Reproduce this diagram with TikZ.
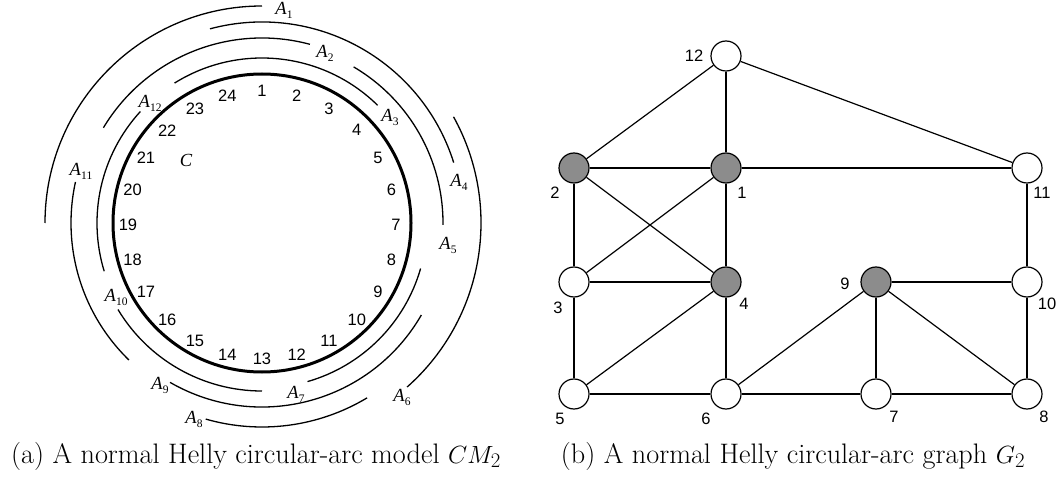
\documentclass[tikz,border=0pt]{standalone}
\usepackage{fontspec}
\newfontfamily\arialf{Liberation Sans}
\newfontfamily\timesf{Liberation Serif}
\newcommand{\Alab}[1]{{\timesf\itshape A}\kern0.2pt\raisebox{-4pt}{\fontsize{11.5}{12}\selectfont\timesf #1}}
\begin{document}
\begin{tikzpicture}[x=1pt,y=-1pt,
  arcl/.style={line width=1.3pt},
  numl/.style={font=\arialf\fontsize{16.5}{17}\selectfont, inner sep=0pt},
  alab/.style={font=\fontsize{18.5}{20}\selectfont, inner sep=0pt},
  vtx/.style={circle, draw, line width=1.2pt, minimum size=30pt, inner sep=0pt, fill=white},
  gvtx/.style={vtx, fill=black!45},
  vlab/.style={font=\arialf\fontsize{16.5}{17}\selectfont, inner sep=0pt},
  edge/.style={line width=1.2pt},
  capt/.style={font=\fontsize{28.2}{32}\selectfont, inner sep=0pt}]
\useasboundingbox (0,0) rectangle (1061,481);

% ---------- circular-arc model ----------
\begin{scope}[shift={(262,223)}, yscale=-1]
  \draw[line width=3pt] (0,0) circle[radius=149];
  \foreach \a/\b/\r in {90/180/217, 75/149/185, 45.5/122/165, 17.5/105/201,
     -0.6/59.6/181, -48.5/29/219, -74/-16/165, -106/-59/204, -120/-30/184,
     -149/-90/168, 167.6/225.8/191, 137.5/197/165}
    \draw[arcl] (\a:\r) arc[start angle=\a, end angle=\b, radius=\r];
\end{scope}
\begin{scope}[shift={(262,225)}, yscale=-1]
  \foreach \k in {1,...,24}
    \node[numl] (p\k) at ({90-15*(\k-1)}:134) {\k};
\end{scope}

\node[alab] (a1) at (284,10) {\Alab{1}};
\node[alab] (a2) at (325,53) {\Alab{2}};
\node[alab] (a3) at (390,117) {\Alab{3}};
\node[alab] (a4) at (459,182) {\Alab{4}};
\node[alab] (a5) at (448,245) {\Alab{5}};
\node[alab] (a6) at (402,397) {\Alab{6}};
\node[alab] (a7) at (296,394) {\Alab{7}};
\node[alab] (a8) at (194,419) {\Alab{8}};
\node[alab] (a9) at (160,385) {\Alab{9}};
\node[alab] (a10) at (116,297) {\Alab{10}};
\node[alab] (a11) at (81,171) {\Alab{11}};
\node[alab] (a12) at (150,103) {\Alab{12}};
\node[alab] (cl) at (186,160) {{\timesf\itshape C}};

% ---------- graph ----------
\node[vtx]  (v12) at (726,56) {};
\node[gvtx] (v2)  at (574,168) {};
\node[gvtx] (v1)  at (726,168) {};
\node[vtx]  (v11) at (1027,168) {};
\node[vtx]  (v3)  at (574,282) {};
\node[gvtx] (v4)  at (726,282) {};
\node[gvtx] (v9)  at (876,282) {};
\node[vtx]  (v10) at (1027,282) {};
\node[vtx]  (v5)  at (574,394) {};
\node[vtx]  (v6)  at (726,394) {};
\node[vtx]  (v7)  at (876,394) {};
\node[vtx]  (v8)  at (1027,394) {};

\foreach \u/\v in {v12/v2, v12/v1, v12/v11, v2/v1, v1/v11, v2/v3, v2/v4, v1/v3,
  v1/v4, v3/v4, v3/v5, v4/v5, v4/v6, v5/v6, v6/v7, v7/v8, v6/v9, v9/v7, v9/v8,
  v9/v10, v10/v11, v10/v8}
  \draw[edge] (\u) -- (\v);

\node[vlab] (l12) at (694,56) {12};
\node[vlab] (l2)  at (555,193) {2};
\node[vlab] (l1)  at (742,193) {1};
\node[vlab] (l11) at (1042,193) {11};
\node[vlab] (l3)  at (558,308) {3};
\node[vlab] (l4)  at (744,304) {4};
\node[vlab] (l9)  at (845,284) {9};
\node[vlab] (l10) at (1047,304) {10};
\node[vlab] (l5)  at (560,419) {5};
\node[vlab] (l6)  at (706,419) {6};
\node[vlab] (l7)  at (894,417) {7};
\node[vlab] (l8)  at (1044,417) {8};

% ---------- captions ----------
\node[capt] (capa) at (256,456) {(a) A normal Helly circular-arc model $CM_2$};
\node[capt] (capb) at (793,456) {(b) A normal Helly circular-arc graph $G_2$};
\end{tikzpicture}
\end{document}
